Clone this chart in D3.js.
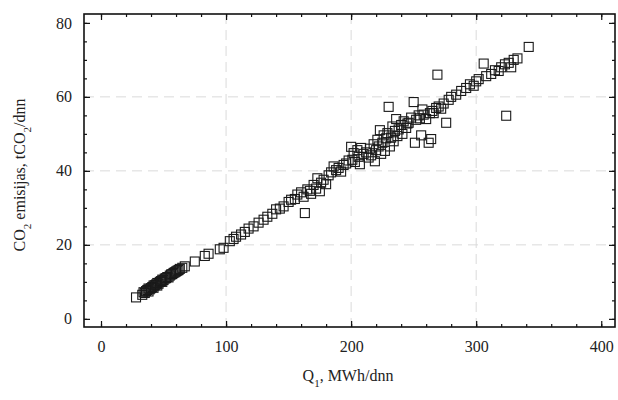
<!DOCTYPE html>
<html>
<head>
<meta charset="utf-8">
<script src="https://cdn.jsdelivr.net/npm/d3@7"></script>
<style>
  body { margin: 0; background: #fff; }
  text { font-family: "Liberation Serif", "DejaVu Serif", serif; fill: #222; }
</style>
</head>
<body>
<svg id="chart" width="618" height="400"></svg>
<script>
// Q1, MWh/dnn
var heatLoad = [28, 33, 34, 35, 36, 37, 38, 38, 39, 40, 41, 42, 42, 43, 44, 45, 45, 46, 47, 48, 49, 49, 50, 51, 52, 53, 54, 55, 56, 57, 58, 59, 60, 61, 62, 63, 65, 67,
    75, 83, 86, 95, 98, 103, 106, 108, 112, 115, 118, 122, 126, 130, 133, 137, 140, 143, 146, 150, 152, 155, 157, 160, 162, 163, 165, 167, 168, 170, 172, 173, 175, 176, 178, 180,
    182, 184, 186, 188, 190, 192, 194, 196, 198, 200, 201, 202, 203, 205, 206, 207, 208, 210, 212, 214, 215, 216, 218, 219, 220, 221, 222, 223, 224, 225, 226, 227, 228, 229,
    230, 231, 232, 233, 234, 235, 236, 237, 238, 240, 241, 242, 244, 245, 246, 248, 250, 251, 252, 254, 255, 256, 257, 258, 260, 262, 263, 264, 265, 266, 268, 269, 270, 272,
    274, 276, 278, 280, 284, 288, 292, 295, 298, 300, 302, 306, 308, 312, 315, 318, 320, 323, 324, 326, 328, 330, 333, 342];
// CO2 emisijas, tCO2/dnn
var emissions = [5.8, 6.5, 7.2, 7.0, 7.5, 7.8, 7.4, 8.2, 8.0, 8.3, 8.6, 8.4, 9.0, 9.1, 9.3, 9.0, 9.7, 9.5, 10.0, 10.2, 10.0, 10.6, 10.5, 10.9, 11.0, 11.3, 11.2, 11.7, 12.0, 12.1, 12.4, 12.6, 12.8, 13.0, 13.2, 13.5, 13.8, 14.2,
    15.5, 17.0, 17.6, 18.8, 19.2, 21.0, 21.6, 22.2, 22.8, 23.5, 24.4, 25.0, 26.0, 26.8, 27.6, 28.4, 29.6, 29.8, 30.4, 31.6, 32.2, 32.4, 33.6, 34.2, 33.0, 28.6, 35.0, 34.6, 33.8, 36.2, 35.2, 38.0, 34.5, 36.8, 37.6, 36.4,
    38.8, 39.6, 41.2, 40.2, 40.8, 39.8, 41.6, 42.0, 42.8, 46.5, 43.0, 44.8, 42.4, 45.6, 43.8, 41.8, 46.2, 44.6, 45.0, 43.6, 46.0, 44.2, 47.2, 42.6, 45.6, 48.4, 46.6, 51.0, 44.6, 47.6, 49.6, 45.4, 48.8, 50.2,
    57.3, 46.6, 49.0, 52.0, 48.0, 50.8, 54.0, 49.4, 51.2, 52.4, 50.0, 53.4, 51.6, 52.8, 53.0, 54.4, 58.6, 47.6, 53.8, 55.0, 54.2, 49.6, 56.6, 55.2, 54.0, 47.6, 55.6, 48.6, 56.2, 55.6, 57.0, 66.0, 57.4, 56.8,
    58.2, 53.0, 59.2, 60.0, 60.6, 61.6, 62.4, 63.4, 63.0, 64.2, 64.8, 69.0, 65.6, 66.2, 67.2, 67.0, 68.0, 68.8, 54.9, 69.2, 68.0, 70.0, 70.4, 73.5];

var xTicks = [0, 100, 200, 300, 400];
var yTicks = [0, 20, 40, 60, 80];
var xGrid = [100, 200, 300];
var yGrid = [20, 40, 60];

var svg = d3.select("#chart");

var plotL = 84, plotR = 615, plotT = 14, plotB = 327;

var x = d3.scaleLinear().domain([-13.6, 411]).range([plotL, plotR]);
var y = d3.scaleLinear().domain([-2.2, 82.4]).range([plotB, plotT]);

// grid
svg.append("g").selectAll("line").data(xGrid)
    .enter().append("line")
    .attr("x1", function (d) { return x(d); })
    .attr("x2", function (d) { return x(d); })
    .attr("y1", plotT).attr("y2", plotB)
    .style("stroke", "#dadada")
    .style("stroke-width", 1)
    .style("stroke-dasharray", "10,6");

svg.append("g").selectAll("line").data(yGrid)
    .enter().append("line")
    .attr("y1", function (d) { return y(d); })
    .attr("y2", function (d) { return y(d); })
    .attr("x1", plotL).attr("x2", plotR)
    .style("stroke", "#dadada")
    .style("stroke-width", 1)
    .style("stroke-dasharray", "10,6");

// axes with inward ticks
var minorX = d3.range(0, 411, 20);
var minorY = d3.range(0, 82, 5);

function styleAxis(g) {
    g.select(".domain").remove();
    g.selectAll(".tick line").style("stroke", "#111").style("stroke-width", 1.2);
    g.selectAll(".tick text").style("font-size", "16px").style("font-family", "Liberation Serif, serif").style("fill", "#222");
}

svg.append("g").attr("transform", "translate(0," + plotB + ")")
    .call(d3.axisBottom(x).tickValues(minorX).tickSize(-3).tickFormat(""))
    .call(styleAxis);
svg.append("g").attr("transform", "translate(0," + plotT + ")")
    .call(d3.axisTop(x).tickValues(minorX).tickSize(-3).tickFormat(""))
    .call(styleAxis);
svg.append("g").attr("transform", "translate(" + plotL + ",0)")
    .call(d3.axisLeft(y).tickValues(minorY).tickSize(-3).tickFormat(""))
    .call(styleAxis);
svg.append("g").attr("transform", "translate(" + plotR + ",0)")
    .call(d3.axisRight(y).tickValues(minorY).tickSize(-3).tickFormat(""))
    .call(styleAxis);

svg.append("g").attr("transform", "translate(0," + plotB + ")")
    .call(d3.axisBottom(x).tickValues(xTicks).tickSize(-6).tickPadding(14).tickFormat(d3.format("d")))
    .call(styleAxis);
svg.append("g").attr("transform", "translate(0," + plotT + ")")
    .call(d3.axisTop(x).tickValues(xTicks).tickSize(-6).tickFormat(""))
    .call(styleAxis);
svg.append("g").attr("transform", "translate(" + plotL + ",0)")
    .call(d3.axisLeft(y).tickValues(yTicks).tickSize(-6).tickPadding(12).tickFormat(d3.format("d")))
    .call(styleAxis);
svg.append("g").attr("transform", "translate(" + plotR + ",0)")
    .call(d3.axisRight(y).tickValues(yTicks).tickSize(-6).tickFormat(""))
    .call(styleAxis);

// frame
svg.append("rect")
    .attr("x", plotL).attr("y", plotT)
    .attr("width", plotR - plotL).attr("height", plotB - plotT)
    .style("fill", "none")
    .style("stroke", "#111")
    .style("stroke-width", 1.6);

// points
var pts = heatLoad.map(function (q, i) { return { q: q, e: emissions[i] }; });
var size = 9;
svg.append("g").selectAll("rect").data(pts)
    .enter().append("rect")
    .attr("x", function (d) { return x(d.q) - size / 2; })
    .attr("y", function (d) { return y(d.e) - size / 2; })
    .attr("width", size).attr("height", size)
    .style("fill", "none")
    .style("stroke", "#1a1a1a")
    .style("stroke-width", 1.1);

// axis titles
var xt = svg.append("text")
    .attr("x", 348).attr("y", 381)
    .attr("text-anchor", "middle")
    .style("font-size", "16px");
xt.append("tspan").text("Q");
xt.append("tspan").attr("baseline-shift", "sub").style("font-size", "11px").text("1");
xt.append("tspan").text(", MWh/dnn");

var yt = svg.append("text")
    .attr("transform", "translate(25,175) rotate(-90)")
    .attr("text-anchor", "middle")
    .style("font-size", "16px");
yt.append("tspan").text("CO");
yt.append("tspan").attr("baseline-shift", "sub").style("font-size", "11px").text("2");
yt.append("tspan").text(" emisijas, tCO");
yt.append("tspan").attr("baseline-shift", "sub").style("font-size", "11px").text("2");
yt.append("tspan").text("/dnn");
</script>
</body>
</html>
